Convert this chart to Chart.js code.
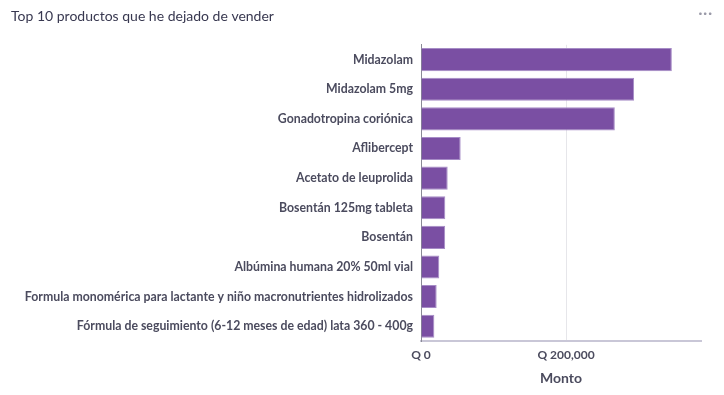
<!DOCTYPE html>
<html>
<head>
<meta charset="utf-8">
<script src="https://cdn.jsdelivr.net/npm/chart.js@4"></script>
<style>
  body { margin: 0; background: #fff; }
  #wrap { position: relative; width: 724px; height: 395px; }
  #dots { position: absolute; right: 11px; top: 4px; color: #9a9aa8; font: bold 14px Lato, sans-serif; letter-spacing: 1px; }
</style>
</head>
<body>
<div id="wrap">
  <canvas id="barChart" width="724" height="395"></canvas>
  <div id="dots">&middot;&middot;&middot;</div>
</div>
<script>
const productos = [
    'Midazolam',
    'Midazolam 5mg',
    'Gonadotropina coriónica',
    'Aflibercept',
    'Acetato de leuprolida',
    'Bosentán 125mg tableta',
    'Bosentán',
    'Albúmina humana 20% 50ml vial',
    'Formula monomérica para lactante y niño macronutrientes hidrolizados',
    'Fórmula de seguimiento (6-12 meses de edad) lata 360 - 400g'
];
const montos = [345800, 293800, 267200, 54700, 36800, 33500, 33300, 25200, 21600, 18400];
const tickValues = [0, 200000];

const textColor = '#4b4b5e';

new Chart(document.getElementById('barChart').getContext('2d'), {
    type: 'bar',
    data: {
        labels: productos,
        datasets: [{
            label: 'Monto',
            data: montos,
            backgroundColor: '#7a4fa3',
            borderColor: '#a68cc6',
            borderWidth: 1,
            barPercentage: 0.78,
            categoryPercentage: 1
        }]
    },
    options: {
        indexAxis: 'y',
        responsive: false,
        animation: false,
        layout: {
            padding: { right: 23, bottom: 0, left: 11 }
        },
        plugins: {
            legend: { display: false },
            tooltip: { enabled: false },
            title: {
                display: true,
                text: 'Top 10 productos que he dejado de vender',
                align: 'start',
                color: '#383850',
                font: { family: 'Lato', size: 14, weight: 'normal' },
                padding: { top: 8, bottom: 20 }
            }
        },
        scales: {
            x: {
                min: 0,
                max: 386000,
                afterBuildTicks: function(scale) {
                    scale.ticks = tickValues.map(v => ({ value: v }));
                },
                afterFit: function(scale) {
                    scale.height = 54;
                },
                grid: { color: '#e6e6ea', drawTicks: false },
                border: { color: '#c9c7d7', width: 2 },
                ticks: {
                    color: textColor,
                    padding: 7,
                    font: { family: 'Lato', size: 12, weight: 'bold' },
                    callback: function(value) {
                        return 'Q ' + value.toLocaleString('en-US');
                    }
                },
                title: {
                    display: true,
                    text: 'Monto',
                    color: textColor,
                    font: { family: 'Lato', size: 14, weight: 'bold' },
                    padding: { top: 0, bottom: 8 }
                }
            },
            y: {
                afterFit: function(scale) {
                    scale.width = 410;
                },
                grid: { display: false, drawTicks: false },
                border: { color: '#8a8a96', width: 1 },
                ticks: {
                    color: textColor,
                    padding: 8,
                    font: { family: 'Lato', size: 12.3, weight: 'bold' }
                }
            }
        }
    }
});
</script>
</body>
</html>
